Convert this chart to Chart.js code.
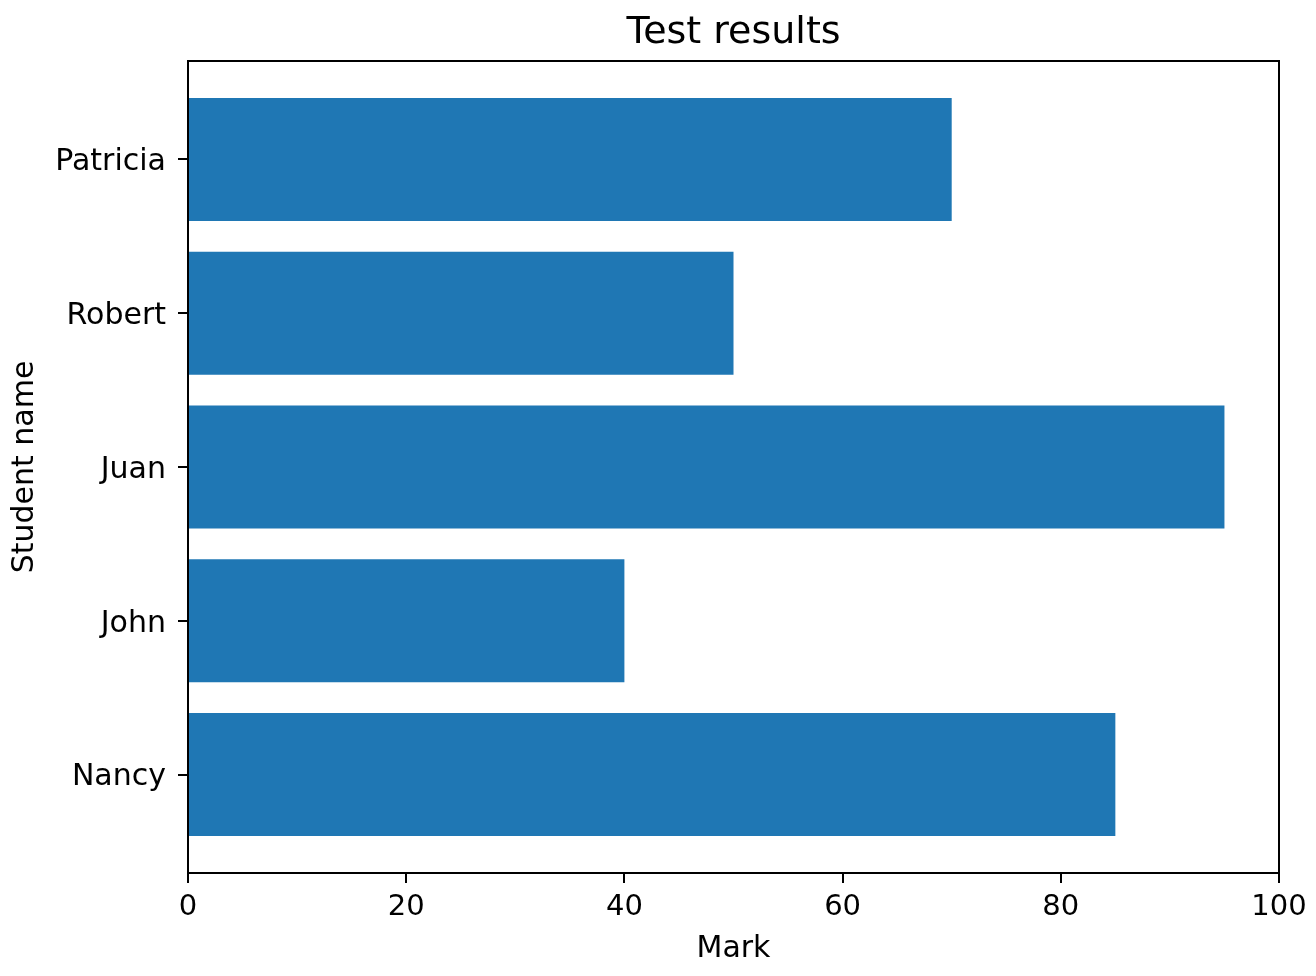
<!DOCTYPE html>
<html>
<head>
<meta charset="utf-8">
<script src="https://cdn.jsdelivr.net/npm/chart.js@4/dist/chart.umd.min.js"></script>
<style>
html,body{margin:0;padding:0;background:#fff;}
canvas{display:block;}
</style>
</head>
<body>
<canvas id="c" width="1316" height="976"></canvas>
<script>
// Data (bottom to top, as in the original)
const students = ['Nancy', 'John', 'Juan', 'Robert', 'Patricia'];
const marks = [85, 40, 95, 50, 70];
const xTicks = [0, 20, 40, 60, 80, 100];
const titleText = 'Test results';
const xLabel = 'Mark';
const yLabel = 'Student name';

const FONT = "'DejaVu Sans', sans-serif";

const framePlugin = {
  id: 'frame',
  afterDraw(chart) {
    const {ctx, chartArea: a} = chart;
    ctx.save();
    ctx.strokeStyle = '#000';
    ctx.lineWidth = 2;
    ctx.strokeRect(a.left, a.top, a.right - a.left, a.bottom - a.top);
    // title centred over the plot area
    ctx.fillStyle = '#000';
    ctx.font = "38px " + FONT;
    ctx.textAlign = 'center';
    ctx.textBaseline = 'alphabetic';
    ctx.fillText(titleText, (a.left + a.right) / 2, 43);
    ctx.restore();
  }
};

new Chart(document.getElementById('c'), {
  type: 'bar',
  data: {
    datasets: [{
      data: students.map((s, i) => ({x: marks[i], y: i})),
      backgroundColor: '#1f77b4',
      borderWidth: 0,
      categoryPercentage: 1,
      barPercentage: 0.8
    }]
  },
  options: {
    indexAxis: 'y',
    responsive: false,
    animation: false,
    devicePixelRatio: 1,
    layout: {padding: {left: 0, right: 37, top: 61, bottom: 0}},
    plugins: {
      legend: {display: false},
      tooltip: {enabled: false},
      title: {display: false}
    },
    scales: {
      x: {
        type: 'linear',
        min: 0,
        max: 100,
        afterBuildTicks: (s) => { s.ticks = xTicks.map(v => ({value: v})); },
        afterFit: (s) => { s.height = 103; },
        grid: {drawOnChartArea: false, tickLength: 10, tickColor: '#000', lineWidth: 2},
        border: {color: '#000', width: 2},
        ticks: {color: '#000', font: {family: FONT, size: 29}, padding: 7, maxRotation: 0},
        title: {display: true, text: xLabel, color: '#000', font: {family: FONT, size: 30}, padding: {top: 4, bottom: 9}}
      },
      y: {
        type: 'linear',
        offset: false,
        min: -0.64,
        max: 4.64,
        afterBuildTicks: (s) => { s.ticks = students.map((n, i) => ({value: i})); },
        afterFit: (s) => { s.width = 188; },
        grid: {drawOnChartArea: false, offset: false, tickLength: 10, tickColor: '#000', lineWidth: 2},
        border: {color: '#000', width: 2},
        ticks: {color: '#000', font: {family: FONT, size: 30}, padding: 12, labelOffset: 3, callback: (v) => students[v] ?? ''},
        title: {display: true, text: yLabel, color: '#000', font: {family: FONT, size: 30}, padding: {top: 7, bottom: 4}}
      }
    }
  },
  plugins: [framePlugin]
});
</script>
</body>
</html>
